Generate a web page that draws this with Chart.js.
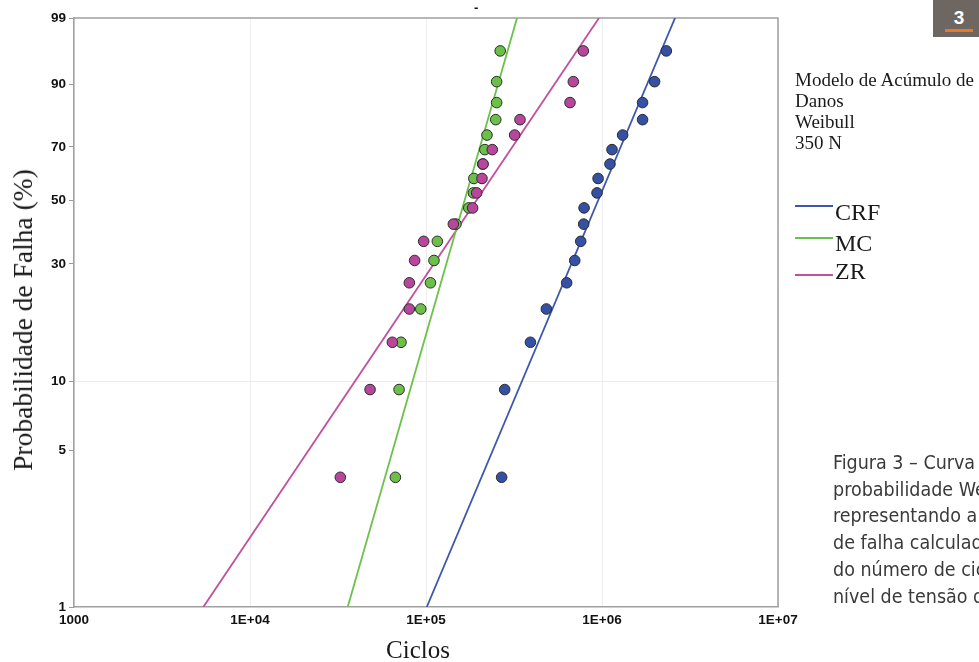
<!DOCTYPE html>
<html><head><meta charset="utf-8">
<script src="https://cdn.jsdelivr.net/npm/chart.js@4.4.1/dist/chart.umd.min.js"></script>
<style>
html,body{margin:0;padding:0;background:#fff;overflow:hidden;}
#wrap{position:relative;width:979px;height:662px;overflow:hidden;background:#fff;}
#c{position:absolute;left:0;top:0;}
.t{position:absolute;white-space:nowrap;margin:0;}
.serif{font-family:"Liberation Serif","Times New Roman",serif;color:#1a1a1a;}
.cap{font-family:"Liberation Sans Narrow","DejaVu Sans Condensed","Liberation Sans",sans-serif;font-stretch:condensed;color:#3a3a3a;font-size:19.5px;line-height:26.7px;}
</style></head><body>
<div id="wrap">
<canvas id="c" width="979" height="662"></canvas>
<div class="t" style="left:474px;top:0px;font:bold 13px 'Liberation Sans',Arial,sans-serif;color:#111;">-</div>
<div class="t serif" style="left:23px;top:320px;font-size:27.5px;transform:translate(-50%,-50%) rotate(-90deg);transform-origin:50% 50%;">Probabilidade de Falha (%)</div>
<div class="t serif" style="left:418px;top:650px;font-size:25px;transform:translate(-50%,-50%);">Ciclos</div>
<div class="t serif" style="left:795px;top:69px;font-size:19px;line-height:21px;">Modelo de Acúmulo de<br>Danos<br>Weibull<br>350 N</div>
<div id="legend"></div>
<div class="t" style="left:933px;top:0;width:46px;height:37px;background:#6e6661;"></div>
<div class="t" style="left:933px;top:0;width:52px;height:37px;text-align:center;font:bold 19px 'Liberation Sans',Arial,sans-serif;color:#fff;line-height:36px;">3</div>
<div class="t" style="left:945px;top:28.5px;width:28px;height:3px;background:#e8772a;"></div>
<div class="t cap" style="left:833px;top:450px;">Figura 3 – Curva<br>probabilidade We<br>representando a<br>de falha calculad<br>do número de cic<br>nível de tensão d</div>
</div>
<script>
// ---- data ----
const probLevels = [3.8, 9.2, 14.6, 20.0, 25.4, 30.9, 36.3, 41.7, 47.2, 52.6, 58.0, 63.5, 69.0, 74.4, 79.8, 85.2, 90.7, 96.2];
const cyclesCRF = [2.69e5, 2.80e5, 3.92e5, 4.83e5, 6.30e5, 7.00e5, 7.57e5, 7.87e5, 7.91e5, 9.37e5, 9.50e5, 1.11e6, 1.14e6, 1.31e6, 1.70e6, 1.70e6, 1.99e6, 2.32e6];
const cyclesMC  = [6.70e4, 7.03e4, 7.21e4, 9.34e4, 1.06e5, 1.11e5, 1.16e5, 1.48e5, 1.75e5, 1.86e5, 1.87e5, 2.10e5, 2.16e5, 2.22e5, 2.49e5, 2.52e5, 2.52e5, 2.64e5];
const cyclesZR  = [3.26e4, 4.81e4, 6.44e4, 8.04e4, 8.04e4, 8.62e4, 9.70e4, 1.43e5, 1.84e5, 1.94e5, 2.08e5, 2.11e5, 2.38e5, 3.19e5, 3.42e5, 6.58e5, 6.87e5, 7.83e5];
const fitCyclesCRF = [1.01e5, 2.60e6];
const fitCyclesMC  = [3.59e4, 3.29e5];
const fitCyclesZR  = [5.43e3, 9.61e5];
const fitProbs = [1, 99];
const seriesNames = ['CRF', 'MC', 'ZR'];
const yTickPercents = [1, 5, 10, 30, 50, 70, 90, 99];
const xTickValues = [1e3, 1e4, 1e5, 1e6, 1e7];
const xTickLabels = ['1000', '1E+04', '1E+05', '1E+06', '1E+07'];

// ---- styles ----
const lineColors = ['#3c57ad', '#6cc14a', '#c24f9b'];
const pointColors = ['#3451a3', '#6cc04a', '#b8469d'];

// Weibull probability-paper transform for the y scale
const weib = p => Math.log(-Math.log(1 - p / 100));

const cyclesAll = [cyclesCRF, cyclesMC, cyclesZR];
const fitsAll = [fitCyclesCRF, fitCyclesMC, fitCyclesZR];

const datasets = [];
seriesNames.forEach((name, s) => {
  datasets.push({
    label: name + ' fit',
    data: fitsAll[s].map((c, i) => ({ x: c, y: weib(fitProbs[i]) })),
    showLine: true, borderColor: lineColors[s], borderWidth: 1.8,
    pointRadius: 0, fill: false, order: 5 + s
  });
});
seriesNames.forEach((name, s) => {
  datasets.push({
    label: name,
    data: cyclesAll[s].map((c, i) => ({ x: c, y: weib(probLevels[i]) })),
    showLine: false, pointRadius: 5.3, pointHoverRadius: 5.3,
    backgroundColor: pointColors[s], borderColor: '#2b2b2b', borderWidth: 1,
    order: 2 - s
  });
});

// legend (HTML)
const lg = document.getElementById('legend');
const legendLineY = [206, 238, 275];
const legendBase = [220, 251, 279];
seriesNames.forEach((name, s) => {
  const ln = document.createElement('div');
  ln.className = 't';
  ln.style.cssText = `left:795px;top:${legendLineY[s]-1}px;width:38px;height:2px;background:${lineColors[s]};`;
  lg.appendChild(ln);
  const tx = document.createElement('div');
  tx.className = 't serif';
  tx.style.cssText = `left:835px;top:${legendBase[s]-20}px;font-size:24px;line-height:24px;`;
  tx.textContent = name;
  lg.appendChild(tx);
});

const frame = {
  id: 'frame',
  beforeDatasetsDraw(chart) {
    const { ctx, chartArea: a } = chart;
    ctx.save();
    ctx.strokeStyle = '#a0a0a0';
    ctx.lineWidth = 1.5;
    ctx.beginPath();
    ctx.moveTo(a.left, a.top);
    ctx.lineTo(a.right, a.top);
    ctx.lineTo(a.right, a.bottom);
    ctx.stroke();
    ctx.restore();
  }
};

const tickFont = { family: "'Liberation Sans', Arial, sans-serif", weight: 'bold', size: 13.5 };

new Chart(document.getElementById('c'), {
  type: 'scatter',
  data: { datasets },
  options: {
    responsive: false,
    animation: false,
    layout: { padding: { left: 0, top: 18, right: 201, bottom: 0 } },
    plugins: { legend: { display: false }, tooltip: { enabled: false }, title: { display: false } },
    scales: {
      x: {
        type: 'logarithmic', min: 1e3, max: 1e7,
        afterBuildTicks: s => { s.ticks = xTickValues.map(v => ({ value: v })); },
        afterFit: s => { s.height = 55; },
        ticks: { callback: (v, i) => xTickLabels[i], autoSkip: false, maxRotation: 0, padding: 5, font: tickFont, color: '#111' },
        grid: { color: '#ededed', drawTicks: false, lineWidth: 1 },
        border: { color: '#a0a0a0', width: 1.5 }
      },
      y: {
        type: 'linear', min: weib(1), max: weib(99),
        afterBuildTicks: s => { s.ticks = yTickPercents.map(p => ({ value: weib(p) })); },
        afterFit: s => { s.width = 74; },
        ticks: { callback: (v, i) => String(yTickPercents[i]), autoSkip: false, padding: 3, font: tickFont, color: '#111' },
        grid: {
          color: c => (c.index !== undefined && yTickPercents[c.index] === 10) ? '#ececec' : 'rgba(0,0,0,0)',
          tickColor: '#999', tickLength: 5, drawTicks: true
        },
        border: { color: '#a0a0a0', width: 1.5 }
      }
    }
  },
  plugins: [frame]
});
</script>
</body></html>
